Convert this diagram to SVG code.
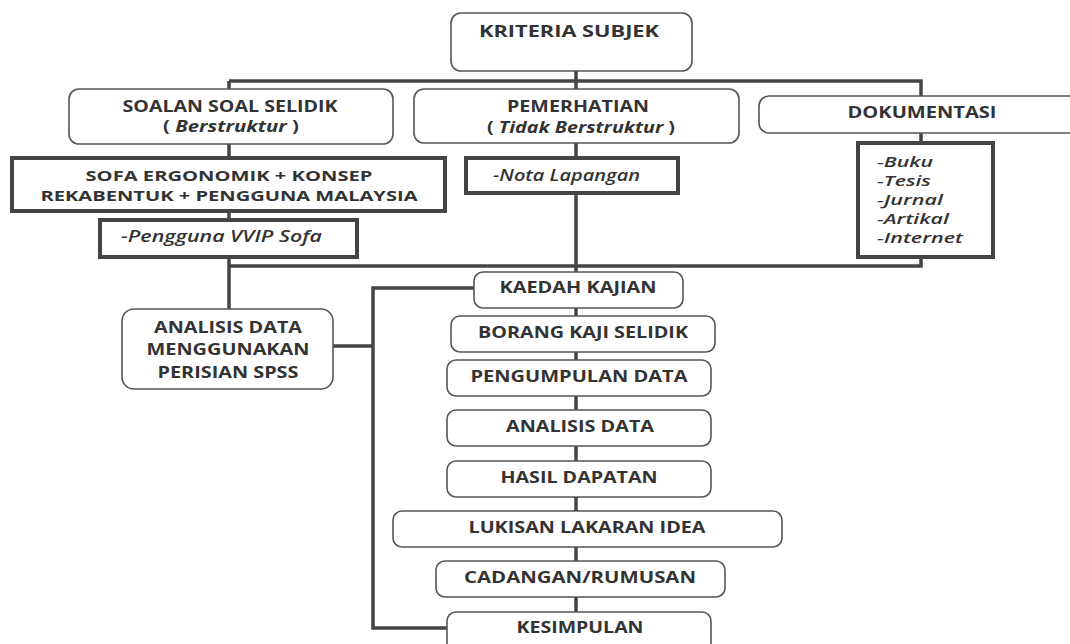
<svg xmlns="http://www.w3.org/2000/svg" width="1070" height="644" viewBox="0 0 1070 644">
<style>
.bg{fill:#ffffff}
.rb{fill:#ffffff;stroke:#555;stroke-width:1.6}
.tb{fill:#ffffff;stroke:#444;stroke-width:4}
.ln{fill:none;stroke:#444;stroke-width:3.5;stroke-linejoin:miter}
text{font-family:"Open Sans","Liberation Sans",sans-serif;fill:#333}
.b{font-weight:700;font-size:15.5px;text-anchor:middle}
.s{font-size:14px}
.i{font-style:italic;font-weight:600;font-size:15.5px}
.li{font-size:13.8px}
.bi{font-style:italic;font-weight:700}
</style>
<rect class="bg" x="0" y="0" width="1070" height="644"/>
<g id="connectors">
<path class="ln" d="M576,71 V81"/>
<path class="ln" d="M229,81 H921 V96"/>
<path class="ln" d="M229,81 V309"/>
<path class="ln" d="M576,81 V272"/>
<path class="ln" d="M921,133 V266 H229"/>
<path class="ln" d="M474,288 H373 V628 H447"/>
<path class="ln" d="M333,346 H373"/>
<path class="ln" d="M576,308 V612"/>
</g>
<g id="kriteria"><rect class="rb" x="451" y="13" width="241" height="58" rx="10"/><text class="b" x="569" y="37" textLength="180" lengthAdjust="spacingAndGlyphs">KRITERIA SUBJEK</text></g>
<g id="soalan"><rect class="rb" x="69" y="89" width="324" height="55" rx="10"/><text class="b" x="230" y="112" textLength="215" lengthAdjust="spacingAndGlyphs">SOALAN SOAL SELIDIK</text><text class="b" x="231" y="132" textLength="136" lengthAdjust="spacingAndGlyphs">( <tspan class="bi">Berstruktur</tspan> )</text></g>
<g id="pemerhatian"><rect class="rb" x="414" y="89" width="325" height="54" rx="10"/><text class="b" x="578" y="112" textLength="142" lengthAdjust="spacingAndGlyphs">PEMERHATIAN</text><text class="b" x="581" y="133" textLength="188" lengthAdjust="spacingAndGlyphs">( <tspan class="bi">Tidak Berstruktur</tspan> )</text></g>
<g id="dokumentasi"><rect class="rb" x="759" y="96" width="330" height="37" rx="10"/><text class="b" x="922" y="118" textLength="149" lengthAdjust="spacingAndGlyphs">DOKUMENTASI</text></g>
<g id="sofa"><rect class="tb" x="12" y="158" width="433" height="53"/><text class="b s" x="229" y="180.5" textLength="287" lengthAdjust="spacingAndGlyphs">SOFA ERGONOMIK + KONSEP</text><text class="b s" x="229" y="200.5" textLength="377" lengthAdjust="spacingAndGlyphs">REKABENTUK + PENGGUNA MALAYSIA</text></g>
<g id="vvip"><rect class="tb" x="100" y="220" width="257" height="37"/><text class="i" x="121" y="242" textLength="201" lengthAdjust="spacingAndGlyphs">-Pengguna VVIP Sofa</text></g>
<g id="nota"><rect class="tb" x="466" y="158" width="212" height="35"/><text class="i" x="493" y="181" textLength="147" lengthAdjust="spacingAndGlyphs">-Nota Lapangan</text></g>
<g id="sumber"><rect class="tb" x="858" y="143" width="135" height="114"/>
<text class="i li" x="877" y="167" textLength="56" lengthAdjust="spacingAndGlyphs">-Buku</text>
<text class="i li" x="877" y="186" textLength="54" lengthAdjust="spacingAndGlyphs">-Tesis</text>
<text class="i li" x="877" y="205" textLength="66" lengthAdjust="spacingAndGlyphs">-Jurnal</text>
<text class="i li" x="877" y="224" textLength="72" lengthAdjust="spacingAndGlyphs">-Artikal</text>
<text class="i li" x="877" y="243" textLength="86" lengthAdjust="spacingAndGlyphs">-Internet</text></g>
<g id="spss"><rect class="rb" x="122" y="309" width="211" height="80" rx="12"/><text class="b" x="228" y="333" textLength="148" lengthAdjust="spacingAndGlyphs">ANALISIS DATA</text><text class="b" x="228" y="355" textLength="163" lengthAdjust="spacingAndGlyphs">MENGGUNAKAN</text><text class="b" x="228" y="378" textLength="141" lengthAdjust="spacingAndGlyphs">PERISIAN SPSS</text></g>
<g id="kaedah"><rect class="rb" x="474" y="272" width="209" height="36" rx="9"/><text class="b" x="578" y="293" textLength="157" lengthAdjust="spacingAndGlyphs">KAEDAH KAJIAN</text></g>
<g id="borang"><rect class="rb" x="451" y="316" width="264" height="36" rx="9"/><text class="b" x="583" y="338" textLength="210" lengthAdjust="spacingAndGlyphs">BORANG KAJI SELIDIK</text></g>
<g id="pengumpulan"><rect class="rb" x="447" y="360" width="264" height="36" rx="9"/><text class="b" x="579" y="382" textLength="217" lengthAdjust="spacingAndGlyphs">PENGUMPULAN DATA</text></g>
<g id="analisis"><rect class="rb" x="447" y="410" width="264" height="36" rx="9"/><text class="b" x="580" y="432" textLength="148" lengthAdjust="spacingAndGlyphs">ANALISIS DATA</text></g>
<g id="hasil"><rect class="rb" x="447" y="461" width="264" height="36" rx="9"/><text class="b" x="579" y="483" textLength="157" lengthAdjust="spacingAndGlyphs">HASIL DAPATAN</text></g>
<g id="lukisan"><rect class="rb" x="393" y="511" width="389" height="36" rx="9"/><text class="b" x="587" y="533" textLength="237" lengthAdjust="spacingAndGlyphs">LUKISAN LAKARAN IDEA</text></g>
<g id="cadangan"><rect class="rb" x="436" y="561" width="289" height="36" rx="9"/><text class="b" x="580" y="583" textLength="232" lengthAdjust="spacingAndGlyphs">CADANGAN/RUMUSAN</text></g>
<g id="kesimpulan"><rect class="rb" x="447" y="612" width="264" height="40" rx="9"/><text class="b" x="580" y="633" textLength="127" lengthAdjust="spacingAndGlyphs">KESIMPULAN</text></g>
</svg>
